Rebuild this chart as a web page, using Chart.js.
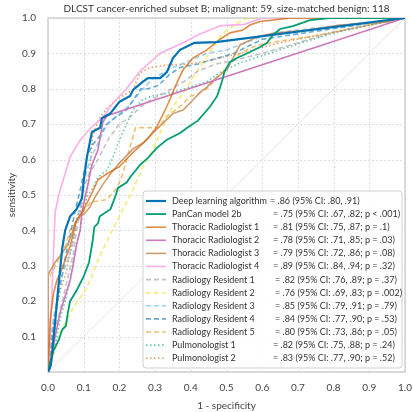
<!DOCTYPE html>
<html><head><meta charset="utf-8">
<script src="https://cdn.jsdelivr.net/npm/chart.js@4.4.1/dist/chart.umd.min.js"></script>
<style>html,body{margin:0;padding:0;background:#fff;}canvas{display:block;}</style>
</head><body>
<canvas id="c" width="413" height="412"></canvas>
<script>
const TITLE = 'DLCST cancer-enriched subset B; malignant: 59, size-matched benign: 118';
const X_LABEL = '1 - specificity';
const Y_LABEL = 'sensitivity';
const TICK_VALUES = [0, 0.1, 0.2, 0.3, 0.4, 0.5, 0.6, 0.7, 0.8, 0.9, 1.0];

const seriesNames = [
  'Deep learning algorithm', 'PanCan model 2b', 'Thoracic Radiologist 1', 'Thoracic Radiologist 2',
  'Thoracic Radiologist 3', 'Thoracic Radiologist 4', 'Radiology Resident 1', 'Radiology Resident 2',
  'Radiology Resident 3', 'Radiology Resident 4', 'Radiology Resident 5', 'Pulmonologist 1', 'Pulmonologist 2'
];
const aucLabels = [
  '= .86 (95% CI: .80, .91)',
  '= .75 (95% CI: .67, .82; p < .001)',
  '= .81 (95% CI: .75, .87; p = .1)',
  '= .78 (95% CI: .71, .85; p = .03)',
  '= .79 (95% CI: .72, .86; p = .08)',
  '= .89 (95% CI: .84, .94; p = .32)',
  '= .82 (95% CI: .76, .89; p = .37)',
  '= .76 (95% CI: .69, .83; p = .002)',
  '= .85 (95% CI: .79, .91; p = .79)',
  '= .84 (95% CI: .77, .90; p = .53)',
  '= .80 (95% CI: .73, .86; p = .05)',
  '= .82 (95% CI: .75, .88; p = .24)',
  '= .83 (95% CI: .77, .90; p = .52)'
];

// ROC points: [1 - specificity, sensitivity]
const deepLearning = [[0,0],[0.008,0.02],[0.02,0.14],[0.028,0.23],[0.04,0.35],[0.048,0.40],[0.062,0.44],[0.08,0.46],[0.095,0.49],[0.1,0.54],[0.109,0.607],[0.123,0.678],[0.146,0.69],[0.151,0.717],[0.174,0.73],[0.2,0.763],[0.23,0.78],[0.238,0.797],[0.266,0.82],[0.28,0.83],[0.314,0.83],[0.333,0.847],[0.35,0.887],[0.37,0.91],[0.41,0.93],[0.47,0.932],[1,1]];
const panCan = [[0,0],[0.006,0.027],[0.015,0.06],[0.03,0.09],[0.04,0.12],[0.05,0.13],[0.056,0.17],[0.062,0.2],[0.08,0.23],[0.09,0.25],[0.1,0.27],[0.115,0.31],[0.125,0.37],[0.13,0.41],[0.14,0.42],[0.145,0.44],[0.16,0.45],[0.175,0.46],[0.19,0.5],[0.196,0.52],[0.22,0.535],[0.23,0.55],[0.258,0.585],[0.28,0.605],[0.305,0.633],[0.333,0.656],[0.37,0.675],[0.39,0.69],[0.42,0.71],[0.454,0.75],[0.474,0.78],[0.487,0.82],[0.495,0.85],[0.51,0.876],[0.529,0.887],[0.566,0.904],[0.594,0.918],[0.613,0.929],[0.63,0.952],[0.65,0.969],[0.686,0.977],[0.734,0.994],[0.79,1],[1,1]];
const thoracic1 = [[0,0],[0.006,0.147],[0.015,0.22],[0.025,0.26],[0.035,0.28],[0.048,0.317],[0.062,0.355],[0.08,0.43],[0.095,0.45],[0.104,0.467],[0.123,0.505],[0.14,0.543],[0.165,0.56],[0.2,0.58],[0.238,0.62],[0.277,0.656],[0.305,0.693],[0.333,0.75],[0.361,0.817],[0.378,0.853],[0.406,0.887],[0.445,0.91],[0.482,0.94],[0.51,0.958],[0.546,0.966],[0.566,0.98],[0.594,0.99],[0.68,1],[1,1]];
const thoracic2 = [[0,0],[0.006,0.01],[0.02,0.1],[0.034,0.168],[0.048,0.213],[0.062,0.26],[0.07,0.3],[0.08,0.36],[0.09,0.4],[0.095,0.45],[0.104,0.495],[0.112,0.53],[0.123,0.585],[0.14,0.628],[0.154,0.707],[0.165,0.724],[1,1]];
const thoracic3 = [[0,0],[0,0.275],[0.02,0.31],[0.035,0.33],[0.053,0.355],[0.067,0.39],[0.075,0.42],[0.09,0.44],[0.105,0.45],[0.118,0.467],[0.132,0.495],[0.154,0.53],[0.175,0.56],[0.2,0.59],[0.238,0.63],[0.266,0.647],[0.294,0.675],[0.322,0.703],[0.35,0.73],[0.378,0.74],[0.398,0.76],[0.426,0.79],[0.445,0.805],[0.473,0.833],[0.501,0.853],[0.518,0.887],[0.538,0.924],[0.585,0.946],[0.63,0.957],[0.725,0.966],[0.818,0.98],[0.95,0.989],[1,1]];
const thoracic4 = [[0,0],[0.006,0.1],[0.012,0.25],[0.02,0.45],[0.03,0.5],[0.042,0.54],[0.062,0.608],[0.09,0.655],[0.12,0.69],[0.154,0.72],[0.182,0.76],[0.22,0.8],[0.258,0.85],[0.286,0.875],[0.314,0.9],[0.378,0.93],[0.426,0.955],[0.482,0.978],[0.55,0.982],[0.6,1],[1,1]];
const resident1 = [[0,0],[0.006,0.05],[0.02,0.12],[0.04,0.2],[0.056,0.27],[0.07,0.33],[0.08,0.4],[0.09,0.45],[0.1,0.52],[0.115,0.56],[0.14,0.6],[0.17,0.66],[0.2,0.7],[0.23,0.72],[0.26,0.75],[0.29,0.77],[0.33,0.79],[0.38,0.82],[0.42,0.85],[0.47,0.87],[0.52,0.88],[0.6,0.9],[0.7,0.93],[0.8,0.96],[1,1]];
const resident2 = [[0,0],[0.006,0.015],[0.034,0.11],[0.07,0.18],[0.11,0.24],[0.146,0.33],[0.175,0.39],[0.2,0.44],[0.238,0.515],[0.266,0.58],[0.294,0.627],[0.314,0.675],[0.333,0.72],[0.35,0.75],[0.37,0.777],[0.39,0.805],[0.406,0.833],[0.425,0.86],[0.445,0.89],[0.462,0.918],[0.482,0.947],[0.5,0.966],[0.538,0.99],[0.56,1],[1,1]];
const resident3 = [[0,0],[0.006,0.09],[0.015,0.15],[0.028,0.22],[0.042,0.28],[0.056,0.32],[0.067,0.355],[0.076,0.4],[0.082,0.44],[0.09,0.47],[0.098,0.53],[0.118,0.6],[0.137,0.64],[0.165,0.7],[0.2,0.73],[0.23,0.755],[0.258,0.79],[0.294,0.83],[0.322,0.845],[0.35,0.86],[0.398,0.88],[0.445,0.9],[0.501,0.91],[0.54,0.925],[0.58,0.94],[0.62,0.955],[0.69,0.965],[1,1]];
const resident4 = [[0,0],[0.006,0.06],[0.02,0.16],[0.035,0.25],[0.05,0.33],[0.065,0.4],[0.075,0.45],[0.087,0.5],[0.1,0.56],[0.11,0.61],[0.123,0.64],[0.14,0.66],[0.165,0.7],[0.19,0.72],[0.22,0.74],[0.24,0.77],[0.26,0.8],[0.28,0.8],[0.31,0.81],[0.34,0.84],[0.37,0.86],[0.42,0.87],[0.47,0.885],[0.52,0.9],[0.56,0.92],[0.6,0.94],[1,1]];
const resident5 = [[0,0],[0,0.26],[0.015,0.29],[0.034,0.325],[0.05,0.36],[0.062,0.4],[0.084,0.43],[0.095,0.45],[0.12,0.48],[0.165,0.487],[0.193,0.52],[0.21,0.56],[0.22,0.6],[0.245,0.69],[0.31,0.69],[0.33,0.72],[0.37,0.75],[0.4,0.78],[0.42,0.785],[0.445,0.8],[0.473,0.83],[0.501,0.86],[0.538,0.9],[0.566,0.915],[0.594,0.925],[0.65,0.935],[0.75,0.95],[0.85,0.97],[1,1]];
const pulmonologist1 = [[0,0],[0.006,0.02],[0.02,0.07],[0.034,0.15],[0.048,0.2],[0.062,0.26],[0.07,0.31],[0.08,0.355],[0.09,0.4],[0.098,0.45],[0.109,0.495],[0.126,0.52],[0.14,0.55],[0.165,0.57],[0.182,0.607],[0.2,0.656],[0.22,0.7],[0.238,0.74],[0.266,0.77],[0.294,0.78],[0.35,0.79],[0.445,0.82],[0.48,0.845],[0.538,0.873],[0.62,0.9],[0.71,0.93],[0.81,0.96],[0.9,0.98],[1,1]];
const pulmonologist2 = [[0,0],[0.006,0.07],[0.02,0.16],[0.034,0.23],[0.05,0.28],[0.07,0.37],[0.08,0.43],[0.095,0.47],[0.109,0.505],[0.118,0.58],[0.125,0.665],[0.14,0.71],[0.165,0.745],[0.2,0.775],[0.238,0.797],[0.258,0.845],[0.286,0.86],[0.333,0.867],[0.4,0.87],[0.45,0.88],[0.538,0.9],[0.65,0.93],[0.75,0.95],[0.85,0.97],[1,1]];
const chanceLine = [[0,0],[1,1]];

const seriesData = [deepLearning, panCan, thoracic1, thoracic2, thoracic3, thoracic4,
  resident1, resident2, resident3, resident4, resident5, pulmonologist1, pulmonologist2];

const DASH = [5, 3], DOT = [1.5, 2.5];
const seriesStyles = [
  {color: '#0173b2', width: 2.2, dash: []},
  {color: '#029e73', width: 1.8, dash: []},
  {color: 'rgba(213,94,0,0.72)', width: 1.6, dash: []},
  {color: '#cc78bc', width: 1.6, dash: []},
  {color: 'rgba(202,145,97,0.9)', width: 1.6, dash: []},
  {color: '#fbafe4', width: 1.6, dash: []},
  {color: 'rgba(148,148,148,0.55)', width: 1.6, dash: DASH},
  {color: 'rgba(236,225,51,0.65)', width: 1.6, dash: DASH},
  {color: 'rgba(86,180,233,0.6)', width: 1.6, dash: DASH},
  {color: 'rgba(1,115,178,0.6)', width: 1.6, dash: DASH},
  {color: 'rgba(222,143,5,0.55)', width: 1.6, dash: DASH},
  {color: 'rgba(2,158,115,0.6)', width: 1.6, dash: DOT},
  {color: 'rgba(213,94,0,0.6)', width: 1.6, dash: DOT}
];

const FONT = 'Lato, "DejaVu Sans", sans-serif';
const TEXT = '#333333';

const datasets = seriesData.map((pts, i) => ({
  label: seriesNames[i],
  data: pts.map(p => ({x: p[0], y: p[1]})),
  showLine: true,
  borderColor: seriesStyles[i].color,
  borderWidth: seriesStyles[i].width,
  borderDash: seriesStyles[i].dash,
  pointRadius: 0,
  tension: 0,
  fill: false,
  order: i === 0 ? 0 : 1
}));
datasets.push({
  label: 'chance',
  data: chanceLine.map(p => ({x: p[0], y: p[1]})),
  showLine: true, borderColor: '#dcdcdc', borderWidth: 0.8, pointRadius: 0, order: 5
});

const overlay = {
  id: 'overlay',
  beforeDatasetsDraw(chart) {
    const {ctx, chartArea: a, scales} = chart;
    ctx.save();
    ctx.strokeStyle = '#dedede';
    ctx.lineWidth = 1;
    ctx.setLineDash([2, 2]);
    TICK_VALUES.forEach(v => {
      const px = Math.round(scales.x.getPixelForValue(v)) + 0.5;
      const py = Math.round(scales.y.getPixelForValue(v)) + 0.5;
      ctx.beginPath(); ctx.moveTo(px, a.top); ctx.lineTo(px, a.bottom); ctx.stroke();
      ctx.beginPath(); ctx.moveTo(a.left, py); ctx.lineTo(a.right, py); ctx.stroke();
    });
    ctx.setLineDash([]);
    ctx.strokeStyle = '#cfcfcf';
    ctx.lineWidth = 1.5;
    ctx.strokeRect(a.left, a.top, a.right - a.left, a.bottom - a.top);
    ctx.restore();
  },
  afterDraw(chart) {
    const {ctx, chartArea: a} = chart;
    ctx.save();
    ctx.fillStyle = TEXT;
    ctx.font = '10px ' + FONT;
    ctx.textAlign = 'center';
    ctx.textBaseline = 'middle';
    ctx.fillText(TITLE, (a.left + a.right) / 2, 9);

    const bx = a.right - 262, by = a.top + 173, bw = 259, bh = a.bottom - 4 - by;
    ctx.beginPath();
    if (ctx.roundRect) ctx.roundRect(bx, by, bw, bh, 3); else ctx.rect(bx, by, bw, bh);
    ctx.fillStyle = 'rgba(255,255,255,0.85)';
    ctx.fill();
    ctx.strokeStyle = '#d0d0d0';
    ctx.lineWidth = 1;
    ctx.stroke();
    ctx.font = '9px ' + FONT;
    ctx.textAlign = 'left';
    ctx.textBaseline = 'middle';
    seriesNames.forEach((name, i) => {
      const y = by + 10 + i * 13.1;
      const st = seriesStyles[i];
      ctx.save();
      ctx.strokeStyle = st.color;
      ctx.lineWidth = st.width;
      ctx.setLineDash(st.dash);
      ctx.beginPath();
      ctx.moveTo(bx + 3, y);
      ctx.lineTo(bx + 23, y);
      ctx.stroke();
      ctx.restore();
      ctx.fillStyle = TEXT;
      const tx = bx + 29;
      ctx.fillText(name, tx, y);
      let vx = bx + 130;
      if (i === 0) vx = Math.max(bx + 127, tx + ctx.measureText(name).width + 3);
      else if (i >= 6 && i <= 10) vx = bx + 132;
      ctx.fillText(aucLabels[i], vx, y);
    });
    ctx.restore();
  }
};

new Chart(document.getElementById('c'), {
  type: 'scatter',
  data: {datasets},
  options: {
    responsive: false,
    animation: false,
    devicePixelRatio: 1,
    layout: {padding: {top: 18, right: 8, left: 0, bottom: 0}},
    plugins: {legend: {display: false}, title: {display: false}, tooltip: {enabled: false}},
    scales: {
      x: {
        type: 'linear', min: 0, max: 1,
        afterBuildTicks: s => { s.ticks = TICK_VALUES.map(v => ({value: v})); },
        afterFit: s => { s.height = 40; s.paddingLeft = 0; s.paddingRight = 0; },
        grid: {display: false, drawTicks: false},
        border: {display: false},
        ticks: {padding: 10, color: '#444', font: {family: FONT, size: 10}, callback: v => Number(v).toFixed(1)},
        title: {display: true, text: X_LABEL, color: '#444', font: {family: FONT, size: 10}, padding: {top: 0, bottom: 0}}
      },
      y: {
        type: 'linear', min: 0, max: 1,
        afterBuildTicks: s => { s.ticks = TICK_VALUES.map(v => ({value: v})); },
        afterFit: s => { s.width = 48; s.paddingTop = 0; s.paddingBottom = 0; },
        grid: {display: false, drawTicks: false},
        border: {display: false},
        ticks: {padding: 12, color: '#444', font: {family: FONT, size: 10}, callback: v => v === 0 ? '' : Number(v).toFixed(1)},
        title: {display: true, text: Y_LABEL, color: '#444', font: {family: FONT, size: 10}, padding: {top: 6, bottom: 0}}
      }
    }
  },
  plugins: [overlay]
});
</script>
</body></html>
